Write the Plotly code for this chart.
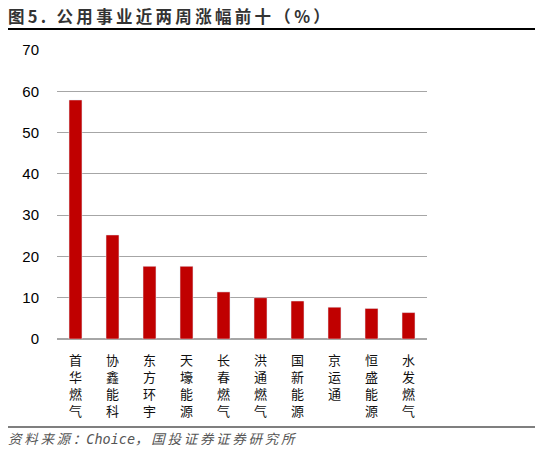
import plotly.graph_objects as go

categories = ["首华燃气", "协鑫能科", "东方环宇", "天壕能源", "长春燃气",
              "洪通燃气", "国新能源", "京运通", "恒盛能源", "水发燃气"]
values = [57.9, 25.2, 17.6, 17.6, 11.4, 10.0, 9.2, 7.7, 7.4, 6.4]
y_ticks = [0, 10, 20, 30, 40, 50, 60, 70]
title_text = "图5. 公用事业近两周涨幅前十（%）"
source_parts = ["资料来源：", "Choice", "，国投证券证券研究所"]

# page body has an 8px margin, so the figure is drawn at (8, 8)
OFF = 8
W, H = 543 - OFF, 452 - OFF
L, T = 57 - OFF, 50 - OFF
pw, ph = 370, 289
R, B = W - L - pw, H - T - ph

def px(x):
    return (x - 57) / pw

def py(y):
    return (339 - y) / ph

THIN = "\u2009"

def spaced(s):
    return THIN.join(list(s))

tick_text = ["<br>".join(list(c)) for c in categories]

title_html = "<b>" + spaced(title_text) + "</b>"
source_html = ("<i>" + spaced(source_parts[0])
               + "<span style='font-family:DejaVu Sans Mono'>" + source_parts[1] + "</span>"
               + spaced(source_parts[2]) + "</i>")

fig = go.Figure(go.Bar(
    x=categories, y=values, marker_color="#C00000", width=0.35,
))

fig.update_layout(
    width=W, height=H,
    margin=dict(l=L, r=R, t=T, b=B),
    paper_bgcolor="white", plot_bgcolor="white",
    showlegend=False,
    font=dict(family="Liberation Sans, Arial", color="#000000", size=13),
    xaxis=dict(
        tickmode="array", tickvals=categories, ticktext=tick_text,
        tickfont=dict(family="Noto Sans CJK SC", size=13, color="#111111"),
        showgrid=False, showline=False, ticks="", tickangle=0,
        ticklabelstandoff=12,
    ),
    yaxis=dict(
        range=[0, 70], tickvals=y_ticks, showgrid=True,
        gridcolor="#A6A6A6", gridwidth=1, zeroline=True,
        zerolinecolor="#A6A6A6", zerolinewidth=1.5,
        tickfont=dict(family="Liberation Sans, Arial", size=15, color="#000000"),
        ticklabelstandoff=17, showline=False, ticks="",
    ),
    shapes=[
        dict(type="line", xref="paper", yref="paper", x0=px(5), x1=px(540),
             y0=py(29), y1=py(29), line=dict(color="#000000", width=2)),
        dict(type="line", xref="paper", yref="paper", x0=px(5), x1=px(540),
             y0=py(427), y1=py(427), line=dict(color="#000000", width=1.2)),
    ],
    annotations=[
        dict(text=title_html, xref="paper", yref="paper",
             x=px(6), y=py(16), xanchor="left", yanchor="middle", showarrow=False,
             font=dict(family="Noto Sans CJK SC", size=16.5, color="#333333")),
        dict(text=source_html, xref="paper", yref="paper",
             x=px(6), y=py(438), xanchor="left", yanchor="middle", showarrow=False,
             font=dict(family="Noto Sans CJK SC", size=13.5, color="#555555")),
    ],
)

fig.write_html("out.html")
